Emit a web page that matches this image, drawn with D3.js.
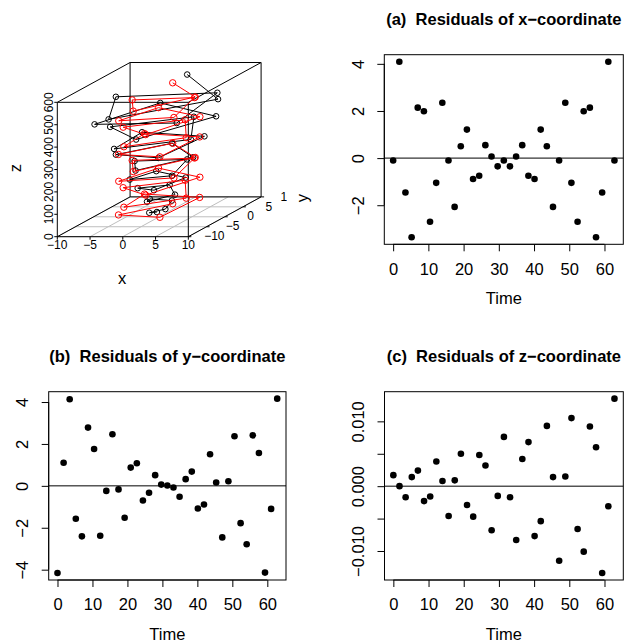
<!DOCTYPE html>
<html>
<head>
<meta charset="utf-8">
<script src="https://cdn.jsdelivr.net/npm/d3@7"></script>
<style>
  html, body { margin: 0; padding: 0; background: #fff; }
  svg { display: block; font-family: "Liberation Sans", Arial, Helvetica, sans-serif; }
  text { white-space: pre; }
</style>
</head>
<body>
<svg id="chart" width="627" height="642"></svg>
<script>
// ---- data -------------------------------------------------------------
const time = [0, 1.75, 3.49, 5.24, 6.98, 8.73, 10.47, 12.22, 13.96, 15.71, 17.45, 19.2,
  20.94, 22.69, 24.43, 26.18, 27.93, 29.67, 31.42, 33.16, 34.91, 36.65, 38.4, 40.14,
  41.89, 43.63, 45.38, 47.12, 48.87, 50.61, 52.36, 54.1, 55.85, 57.6, 59.34, 61.09, 62.83];

// residuals (observed minus fitted) for each coordinate
const residX = [-0.10, 4.09, -1.46, -3.36, 2.14, 1.99, -2.70, -1.05, 2.35, -0.10, -2.07, 0.50,
  1.21, -0.89, -0.75, 0.55, 0.07, -0.35, -0.10, -0.35, 0.07, 0.55, -0.75, -0.89,
  1.21, 0.50, -2.07, -0.10, 2.35, -1.05, -2.70, 1.99, 2.14, -3.36, -1.46, 4.09, -0.10];
const residY = [-4.16, 1.10, 4.13, -1.57, -2.41, 2.78, 1.76, -2.38, -0.24, 2.46, -0.17, -1.52,
  0.87, 1.08, -0.70, -0.33, 0.51, 0.06, 0.02, -0.08, -0.52, 0.32, 0.68, -1.08,
  -0.89, 1.51, 0.16, -2.46, 0.22, 2.37, -1.78, -2.79, 2.41, 1.57, -4.14, -1.10, 4.16];
const residZ = [0.0017, 0.0000, -0.0017, 0.0014, 0.0024, -0.0023, -0.0016, 0.0038, 0.0008,
  -0.0046, 0.0009, 0.0050, -0.0029, -0.0047, 0.0048, 0.0032, -0.0068, -0.0015, 0.0076,
  -0.0017, -0.0083, 0.0042, 0.0068, -0.0077, -0.0054, 0.0093, 0.0014, -0.0115, 0.0015,
  0.0105, -0.0066, -0.0101, 0.0092, 0.0060, -0.0134, -0.0031, 0.0135];

// fitted helix (red)
const fitX = [-0.95, -5.17, 2.75, 4.21, -4.21, -2.75, 5.17, 0.95, -5.50, 0.95, 5.17, -2.75,
  -4.21, 4.21, 2.75, -5.17, -0.95, 5.50, -0.95, -5.17, 2.75, 4.21, -4.21, -2.75,
  5.17, 0.95, -5.50, 0.95, 5.17, -2.75, -4.21, 4.21, 2.75, -5.17, -0.95, 5.50, -0.95];
const fitY = [5.42, -1.88, -4.76, 3.54, 3.54, -4.76, -1.88, 5.42, 0.00, -5.42, 1.88, 4.76,
  -3.54, -3.54, 4.76, 1.88, -5.42, 0.00, 5.42, -1.88, -4.76, 3.54, 3.54, -4.76,
  -1.88, 5.42, 0.00, -5.42, 1.88, 4.76, -3.54, -3.54, 4.76, 1.88, -5.42, 0.00, 5.42];
const fitZ = [10, 25, 40, 55, 70, 85, 100, 115, 130, 145, 160, 175, 190, 205, 220, 235,
  250, 265, 280, 295, 310, 325, 340, 355, 370, 385, 400, 415, 430, 445, 460, 475,
  490, 505, 520, 535, 550];

// observed points = fitted + residual
const observed = time.map((t, i) => ({ x: fitX[i] + residX[i], y: fitY[i] + residY[i], z: fitZ[i] + residZ[i] }));
const fitted = time.map((t, i) => ({ x: fitX[i], y: fitY[i], z: fitZ[i] }));

// tick values
const timeTicks = [0, 10, 20, 30, 40, 50, 60];
const ticksA = [-2, 0, 2, 4];
const ticksB = [-4, -2, 0, 2, 4];
const ticksC = [-0.01, -0.005, 0, 0.005, 0.01];
const labelsC = { "-0.01": "\u22120.010", "0": "0.000", "0.01": "0.010" };
const ticks3x = [-10, -5, 0, 5, 10];
const ticks3y = [-10, -5, 0, 5, 10];
const ticks3z = [0, 100, 200, 300, 400, 500, 600];

// ---- helpers ----------------------------------------------------------
const svg = d3.select("#chart");
const FS = 16.5;
const fmtMinus = v => String(v).replace("-", "\u2212");

function padded(ext, f = 0.04) {
  const d = (ext[1] - ext[0]) * f;
  return [ext[0] - d, ext[1] + d];
}

function residualPanel(box, values, yTicks, yFmt, title) {
  const g = svg.append("g");
  const x = d3.scaleLinear().domain(padded(d3.extent(time))).range([box.l, box.r]);
  const y = d3.scaleLinear().domain(padded(d3.extent(values))).range([box.b, box.t]);

  // zero reference line
  g.append("line")
    .attr("x1", box.l).attr("x2", box.r)
    .attr("y1", y(0)).attr("y2", y(0))
    .attr("stroke", "#000").attr("stroke-width", 1);

  g.selectAll("circle.pt").data(values).join("circle")
    .attr("class", "pt")
    .attr("cx", (d, i) => x(time[i]))
    .attr("cy", d => y(d))
    .attr("r", 3.3)
    .attr("fill", "#000");

  g.append("rect")
    .attr("x", box.l).attr("y", box.t)
    .attr("width", box.r - box.l).attr("height", box.b - box.t)
    .attr("fill", "none").attr("stroke", "#000").attr("stroke-width", 1);

  // bottom axis
  const ax = g.append("g").attr("transform", `translate(0,${box.b})`)
    .call(d3.axisBottom(x).tickValues(timeTicks).tickSize(7).tickPadding(11.5).tickFormat(d3.format("d")));
  ax.select(".domain").attr("d", `M${x(timeTicks[0])},0H${x(timeTicks[timeTicks.length - 1])}`);
  ax.selectAll("text").attr("font-size", FS).attr("font-family", null).attr("fill", "#000");
  ax.selectAll("line").attr("stroke", "#000");
  ax.attr("font-family", null).attr("font-size", null);

  // left axis with labels parallel to it
  const ay = g.append("g").attr("transform", `translate(${box.l},0)`)
    .call(d3.axisLeft(y).tickValues(yTicks).tickSize(7).tickFormat(yFmt));
  ay.select(".domain").attr("d", `M0,${y(yTicks[0])}V${y(yTicks[yTicks.length - 1])}`);
  ay.selectAll("line").attr("stroke", "#000");
  ay.attr("font-family", null).attr("font-size", null);
  ay.selectAll("text")
    .attr("x", null).attr("dy", "0.35em")
    .attr("text-anchor", "middle")
    .attr("transform", "translate(-26,0) rotate(-90)")
    .attr("font-size", FS).attr("fill", "#000");

  g.append("text")
    .attr("x", (box.l + box.r) / 2).attr("y", box.b + 54).attr("dy", "0.35em")
    .attr("text-anchor", "middle").attr("font-size", FS)
    .text("Time");

  g.append("text")
    .attr("x", (box.l + box.r) / 2).attr("y", box.t - 35).attr("dy", "0.35em")
    .attr("text-anchor", "middle").attr("font-size", FS).attr("font-weight", "bold")
    .text(title);
}

// ---- residual panels --------------------------------------------------
residualPanel({ l: 384.3, r: 623.3, t: 54.7, b: 244.3 }, residX, ticksA, fmtMinus,
  "(a)  Residuals of x\u2212coordinate");
residualPanel({ l: 48.7, r: 286, t: 391.7, b: 580 }, residY, ticksB, fmtMinus,
  "(b)  Residuals of y\u2212coordinate");
residualPanel({ l: 384.5, r: 623.3, t: 391.7, b: 580 }, residZ, ticksC,
  d => labelsC[String(d)] || "",
  "(c)  Residuals of z\u2212coordinate");

// ---- 3D helix panel (oblique projection, 40 degrees) ------------------
const yxF = 1 - 40 / 90, yzF = 40 / 90;
const nx = d3.scaleLinear().domain([-10, 10]).range([0, 4]);
const ny = d3.scaleLinear().domain([-10, 10]).range([0, 4]);
const nz = d3.scaleLinear().domain([0, 600]).range([0, 6]);
const sx = d3.scaleLinear().domain([0, 4 + 4 * yxF]).range([57.3, 261.1]);
const sz = d3.scaleLinear().domain([0, 6 + 4 * yzF]).range([236.7, 62.5]);
const proj = (x, y, z) => [sx(nx(x) + yxF * ny(y)), sz(nz(z) + yzF * ny(y))];

const p3 = svg.append("g");

// floor grid
const grid = p3.append("g").attr("stroke", "#bebebe").attr("stroke-width", 1);
ticks3x.forEach(v => {
  const a = proj(v, -10, 0), b = proj(v, 10, 0);
  grid.append("line").attr("x1", a[0]).attr("y1", a[1]).attr("x2", b[0]).attr("y2", b[1]);
});
ticks3y.forEach(v => {
  const a = proj(-10, v, 0), b = proj(10, v, 0);
  grid.append("line").attr("x1", a[0]).attr("y1", a[1]).attr("x2", b[0]).attr("y2", b[1]);
});

// box edges
const xr = [-10, 10], yr = [-10, 10], zr = [0, 600];
const edges = [];
yr.forEach(yv => zr.forEach(zv => edges.push([[xr[0], yv, zv], [xr[1], yv, zv]])));
xr.forEach(xv => zr.forEach(zv => edges.push([[xv, yr[0], zv], [xv, yr[1], zv]])));
xr.forEach(xv => yr.forEach(yv => edges.push([[xv, yv, zr[0]], [xv, yv, zr[1]]])));
p3.append("g").attr("stroke", "#000").attr("stroke-width", 1)
  .selectAll("line").data(edges).join("line")
  .attr("x1", d => proj(...d[0])[0]).attr("y1", d => proj(...d[0])[1])
  .attr("x2", d => proj(...d[1])[0]).attr("y2", d => proj(...d[1])[1]);

// axis ticks and labels
const t3 = p3.append("g").attr("font-size", 12).attr("fill", "#000");
ticks3x.forEach(v => {
  const a = proj(v, -10, 0);
  p3.append("line").attr("x1", a[0]).attr("x2", a[0]).attr("y1", a[1]).attr("y2", a[1] + 3).attr("stroke", "#000");
  t3.append("text").attr("x", a[0]).attr("y", 245).attr("dy", "0.35em")
    .attr("text-anchor", "middle").text(fmtMinus(v));
});
ticks3z.forEach(v => {
  const a = proj(-10, -10, v);
  p3.append("line").attr("x1", a[0] - 3).attr("x2", a[0]).attr("y1", a[1]).attr("y2", a[1]).attr("stroke", "#000");
  t3.append("text").attr("transform", `translate(48.3,${a[1]}) rotate(-90)`).attr("dy", "0.35em")
    .attr("text-anchor", "middle").text(v);
});
svg.append("defs").append("clipPath").attr("id", "clip3d")
  .append("rect").attr("x", 0).attr("y", 0).attr("width", 287).attr("height", 320);
const ty = t3.append("g").attr("clip-path", "url(#clip3d)");
ticks3y.forEach(v => {
  const a = proj(10, v, 0);
  p3.append("line").attr("x1", a[0]).attr("x2", a[0] + 3).attr("y1", a[1]).attr("y2", a[1]).attr("stroke", "#000");
  ty.append("text").attr("x", a[0] + 26).attr("y", a[1] - 0.5).attr("dy", "0.35em")
    .attr("text-anchor", "middle").text(fmtMinus(v));
});

// axis titles
p3.append("text").attr("x", 122).attr("y", 278).attr("dy", "0.35em")
  .attr("text-anchor", "middle").attr("font-size", FS).text("x");
p3.append("text").attr("transform", "translate(302,198) rotate(-90)").attr("dy", "0.35em")
  .attr("text-anchor", "middle").attr("font-size", FS).text("y");
p3.append("text").attr("transform", "translate(15,168) rotate(-90)").attr("dy", "0.35em")
  .attr("text-anchor", "middle").attr("font-size", FS).text("z");

// observed (black) and fitted (red) trajectories
function trajectory(pts, color, r) {
  const xy = pts.map(p => proj(p.x, p.y, p.z));
  p3.append("path").attr("d", d3.line()(xy))
    .attr("fill", "none").attr("stroke", color).attr("stroke-width", 1);
  p3.append("g").selectAll("circle").data(xy).join("circle")
    .attr("cx", d => d[0]).attr("cy", d => d[1]).attr("r", r)
    .attr("fill", "none").attr("stroke", color).attr("stroke-width", 1);
}
trajectory(observed, "#000", 2.8);
trajectory(fitted, "#ff0000", 3.2);
</script>
</body>
</html>
